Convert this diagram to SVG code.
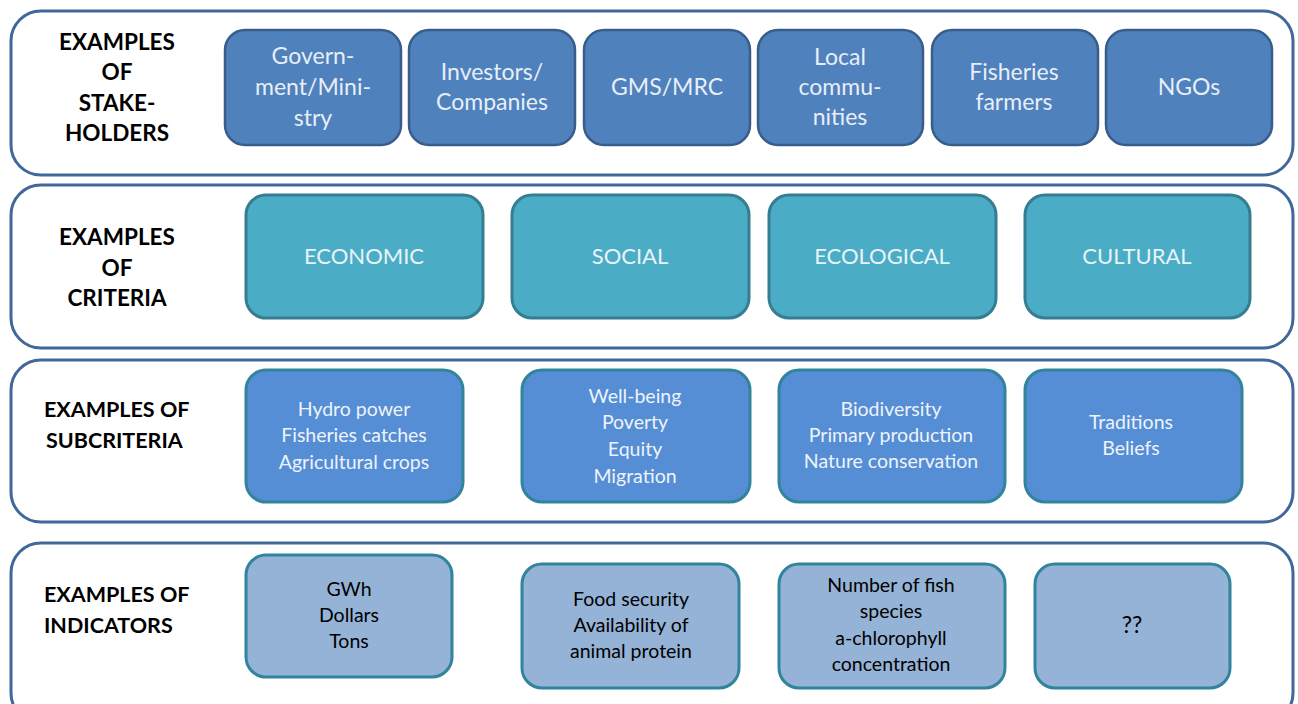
<svg xmlns="http://www.w3.org/2000/svg" width="1298" height="704" viewBox="0 0 1298 704">
  <style>
    .panel { fill: #ffffff; stroke: #41689a; stroke-width: 3; }
    .stake { fill: #4f81bd; stroke: #385d8a; stroke-width: 2.5; }
    .crit { fill: #4bacc6; stroke: #357d91; stroke-width: 3; }
    .sub { fill: #558ed5; stroke: #31849b; stroke-width: 3; }
    .ind { fill: #95b3d7; stroke: #31849b; stroke-width: 3; }
    text { font-family: Lato, "Open Sans", "Liberation Sans", sans-serif; text-anchor: middle; dominant-baseline: central; }
    .head { font-weight: bold; font-size: 22.5px; fill: #000000; }
    .headl { font-weight: bold; font-size: 21.5px; fill: #000000; text-anchor: start; }
    .t1 { font-size: 23px; fill: #e8eef7; }
    .t2 { font-size: 22px; fill: #e8f4f8; }
    .t3 { font-size: 19.5px; fill: #eef3fb; }
    .t4 { font-size: 19.5px; fill: #000000; }
    .big { font-size: 23px; }
  </style>

  <!-- Row panels -->
  <g id="panels">
    <rect class="panel" x="11" y="11" width="1282" height="164" rx="30"/>
    <rect class="panel" x="11" y="185" width="1282" height="163" rx="30"/>
    <rect class="panel" x="11" y="360" width="1282" height="162" rx="30"/>
    <rect class="panel" x="11" y="543" width="1282" height="180" rx="30"/>
  </g>

  <!-- Row headings -->
  <g id="heading-stakeholders">
    <text class="head" x="117" y="41">EXAMPLES</text>
    <text class="head" x="117" y="71">OF</text>
    <text class="head" x="117" y="102">STAKE-</text>
    <text class="head" x="117" y="132">HOLDERS</text>
  </g>
  <g id="heading-criteria">
    <text class="head" x="117" y="236">EXAMPLES</text>
    <text class="head" x="117" y="267">OF</text>
    <text class="head" x="117" y="297">CRITERIA</text>
  </g>
  <g id="heading-subcriteria">
    <text class="headl" x="44" y="409">EXAMPLES OF</text>
    <text class="headl" x="46" y="440">SUBCRITERIA</text>
  </g>
  <g id="heading-indicators">
    <text class="headl" x="44" y="594">EXAMPLES OF</text>
    <text class="headl" x="44" y="625">INDICATORS</text>
  </g>

  <!-- Stakeholders -->
  <g id="stake-government">
    <rect class="stake" x="225" y="30" width="176" height="115" rx="20"/>
    <text class="t1" x="313" y="55">Govern-</text>
    <text class="t1" x="313" y="86">ment/Mini-</text>
    <text class="t1" x="313" y="117">stry</text>
  </g>
  <g id="stake-investors">
    <rect class="stake" x="409" y="30" width="166" height="115" rx="20"/>
    <text class="t1" x="492" y="71">Investors/</text>
    <text class="t1" x="492" y="101">Companies</text>
  </g>
  <g id="stake-gms">
    <rect class="stake" x="584" y="30" width="166" height="115" rx="20"/>
    <text class="t1" x="667" y="86">GMS/MRC</text>
  </g>
  <g id="stake-local">
    <rect class="stake" x="758" y="30" width="165" height="115" rx="20"/>
    <text class="t1" x="840" y="56">Local</text>
    <text class="t1" x="840" y="86">commu-</text>
    <text class="t1" x="840" y="116">nities</text>
  </g>
  <g id="stake-fisheries">
    <rect class="stake" x="932" y="30" width="166" height="115" rx="20"/>
    <text class="t1" x="1014" y="71">Fisheries</text>
    <text class="t1" x="1014" y="101">farmers</text>
  </g>
  <g id="stake-ngos">
    <rect class="stake" x="1106" y="30" width="166" height="115" rx="20"/>
    <text class="t1" x="1189" y="86">NGOs</text>
  </g>

  <!-- Criteria -->
  <g id="crit-economic">
    <rect class="crit" x="246" y="195" width="237" height="123" rx="20"/>
    <text class="t2" x="364" y="255">ECONOMIC</text>
  </g>
  <g id="crit-social">
    <rect class="crit" x="512" y="195" width="237" height="123" rx="20"/>
    <text class="t2" x="630" y="255">SOCIAL</text>
  </g>
  <g id="crit-ecological">
    <rect class="crit" x="769" y="195" width="227" height="123" rx="20"/>
    <text class="t2" x="882" y="255">ECOLOGICAL</text>
  </g>
  <g id="crit-cultural">
    <rect class="crit" x="1025" y="195" width="225" height="123" rx="20"/>
    <text class="t2" x="1137" y="255">CULTURAL</text>
  </g>

  <!-- Subcriteria -->
  <g id="sub-economic">
    <rect class="sub" x="246" y="370" width="217" height="132" rx="20"/>
    <text class="t3" x="354" y="408">Hydro power</text>
    <text class="t3" x="354" y="434">Fisheries catches</text>
    <text class="t3" x="354" y="461">Agricultural crops</text>
  </g>
  <g id="sub-social">
    <rect class="sub" x="522" y="370" width="228" height="132" rx="20"/>
    <text class="t3" x="635" y="395">Well-being</text>
    <text class="t3" x="635" y="421">Poverty</text>
    <text class="t3" x="635" y="448">Equity</text>
    <text class="t3" x="635" y="475">Migration</text>
  </g>
  <g id="sub-ecological">
    <rect class="sub" x="779" y="370" width="226" height="132" rx="20"/>
    <text class="t3" x="891" y="408">Biodiversity</text>
    <text class="t3" x="891" y="434">Primary production</text>
    <text class="t3" x="891" y="460">Nature conservation</text>
  </g>
  <g id="sub-cultural">
    <rect class="sub" x="1025" y="370" width="217" height="132" rx="20"/>
    <text class="t3" x="1131" y="421">Traditions</text>
    <text class="t3" x="1131" y="447">Beliefs</text>
  </g>

  <!-- Indicators -->
  <g id="ind-economic">
    <rect class="ind" x="246" y="555" width="206" height="122" rx="20"/>
    <text class="t4" x="349" y="588">GWh</text>
    <text class="t4" x="349" y="614">Dollars</text>
    <text class="t4" x="349" y="640">Tons</text>
  </g>
  <g id="ind-social">
    <rect class="ind" x="522" y="564" width="217" height="124" rx="20"/>
    <text class="t4" x="631" y="598">Food security</text>
    <text class="t4" x="631" y="624">Availability of</text>
    <text class="t4" x="631" y="650">animal protein</text>
  </g>
  <g id="ind-ecological">
    <rect class="ind" x="779" y="564" width="226" height="124" rx="20"/>
    <text class="t4" x="891" y="584">Number of fish</text>
    <text class="t4" x="891" y="610">species</text>
    <text class="t4" x="891" y="637">a-chlorophyll</text>
    <text class="t4" x="891" y="663">concentration</text>
  </g>
  <g id="ind-cultural">
    <rect class="ind" x="1035" y="564" width="195" height="124" rx="20"/>
    <text class="t4 big" x="1132" y="624">??</text>
  </g>

  <!-- No connectors are drawn between the rows -->
  <g id="connectors"/>
</svg>
